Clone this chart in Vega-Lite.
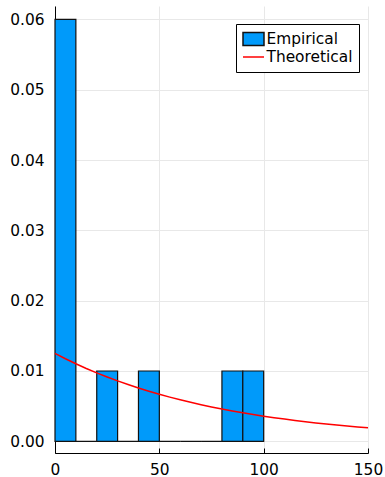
{
  "$schema": "https://vega.github.io/schema/vega-lite/v6.json",
  "width": 313,
  "height": 447,
  "autosize": {"type": "none"},
  "padding": {"left": 55, "top": 6, "right": 17, "bottom": 24},
  "background": "white",
  "config": {
    "view": {"stroke": null},
    "font": "DejaVu Sans",
    "axis": {
      "labelFont": "DejaVu Sans",
      "labelFontSize": 15.4,
      "labelColor": "black",
      "labelFlush": false,
      "labelOverlap": false,
      "domainColor": "black",
      "domainWidth": 1,
      "tickColor": "black",
      "gridColor": "#e8e8e8",
      "gridWidth": 1,
      "title": null
    },
    "legend": {
      "orient": "none",
      "legendX": 181,
      "legendY": 18,
      "padding": 6,
      "rowPadding": 0,
      "clipHeight": 18,
      "strokeColor": "black",
      "fillColor": "white",
      "labelFont": "DejaVu Sans",
      "labelFontSize": 15.4,
      "labelColor": "black",
      "labelOffset": 1.5,
      "symbolSize": 441,
      "symbolStrokeWidth": 1.5,
      "symbolOpacity": 1
    }
  },
  "datasets": {
    "bars": [
      {"x0": 0, "x1": 10, "density": 0.06},
      {"x0": 10, "x1": 20, "density": 0},
      {"x0": 20, "x1": 30, "density": 0.01},
      {"x0": 30, "x1": 40, "density": 0},
      {"x0": 40, "x1": 50, "density": 0.01},
      {"x0": 50, "x1": 60, "density": 0},
      {"x0": 60, "x1": 70, "density": 0},
      {"x0": 70, "x1": 80, "density": 0},
      {"x0": 80, "x1": 90, "density": 0.01},
      {"x0": 90, "x1": 100, "density": 0.01}
    ],
    "curve": [
      {"x": 0, "y": 0.0125},
      {"x": 5, "y": 0.011743},
      {"x": 10, "y": 0.011031},
      {"x": 15, "y": 0.010363},
      {"x": 20, "y": 0.009735},
      {"x": 25, "y": 0.009145},
      {"x": 30, "y": 0.008591},
      {"x": 35, "y": 0.008071},
      {"x": 40, "y": 0.007582},
      {"x": 45, "y": 0.007122},
      {"x": 50, "y": 0.006691},
      {"x": 55, "y": 0.006285},
      {"x": 60, "y": 0.005905},
      {"x": 65, "y": 0.005547},
      {"x": 70, "y": 0.005211},
      {"x": 75, "y": 0.004895},
      {"x": 80, "y": 0.004598},
      {"x": 85, "y": 0.00432},
      {"x": 90, "y": 0.004058},
      {"x": 95, "y": 0.003812},
      {"x": 100, "y": 0.003581},
      {"x": 105, "y": 0.003364},
      {"x": 110, "y": 0.00316},
      {"x": 115, "y": 0.002969},
      {"x": 120, "y": 0.002789},
      {"x": 125, "y": 0.00262},
      {"x": 130, "y": 0.002461},
      {"x": 135, "y": 0.002312},
      {"x": 140, "y": 0.002172},
      {"x": 145, "y": 0.002041},
      {"x": 150, "y": 0.001917}
    ],
    "series": [
      {"series": "Empirical"},
      {"series": "Theoretical"}
    ]
  },
  "layer": [
    {
      "data": {"name": "bars"},
      "mark": {"type": "bar", "fill": "#009AFA", "stroke": "#111111", "strokeWidth": 1.2, "opacity": 1},
      "encoding": {
        "x": {
          "field": "x0", "type": "quantitative",
          "scale": {"domain": [0, 150], "nice": false, "zero": false},
          "axis": {"values": [0, 50, 100, 150], "tickSize": -5, "labelPadding": 14, "grid": true}
        },
        "x2": {"field": "x1"},
        "y": {
          "field": "density", "type": "quantitative",
          "scale": {"domain": [-0.00166, 0.0619], "nice": false, "zero": false},
          "axis": {"values": [0, 0.01, 0.02, 0.03, 0.04, 0.05, 0.06], "format": ".2f", "tickSize": -5, "labelPadding": 16, "grid": true}
        },
        "y2": {"datum": 0}
      }
    },
    {
      "data": {"name": "curve"},
      "mark": {"type": "line", "stroke": "#FF0000", "strokeWidth": 1.5},
      "encoding": {
        "x": {"field": "x", "type": "quantitative"},
        "y": {"field": "y", "type": "quantitative"}
      }
    },
    {
      "data": {"name": "series"},
      "mark": {"type": "point", "opacity": 0},
      "encoding": {
        "shape": {
          "field": "series", "type": "nominal",
          "scale": {"domain": ["Empirical", "Theoretical"], "range": ["M-1,-0.62H1V0.62H-1Z", "M-1,0H1"]},
          "legend": {"title": null}
        },
        "fill": {
          "field": "series", "type": "nominal",
          "scale": {"domain": ["Empirical", "Theoretical"], "range": ["#009AFA", "transparent"]},
          "legend": {"title": null}
        },
        "stroke": {
          "field": "series", "type": "nominal",
          "scale": {"domain": ["Empirical", "Theoretical"], "range": ["#111111", "#FF0000"]},
          "legend": {"title": null}
        }
      }
    }
  ]
}
